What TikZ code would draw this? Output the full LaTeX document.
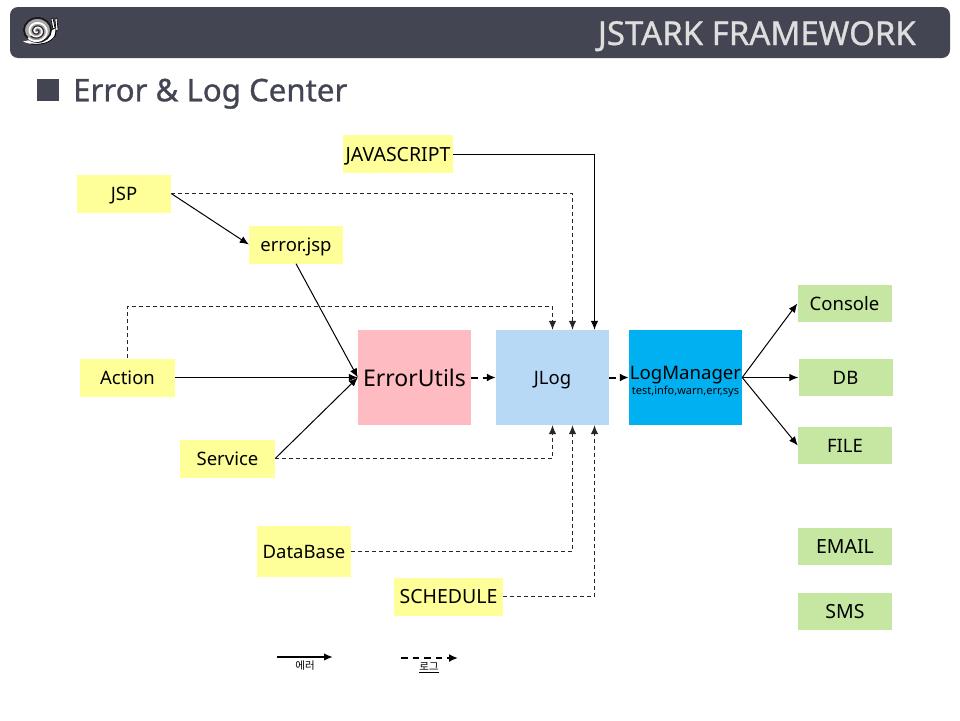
\documentclass[tikz,border=0pt]{standalone}
\usepackage{fontspec}
\setmainfont{Noto Sans}
\newfontfamily\krfont{Noto Sans CJK KR}
\newfontfamily\semifont[FakeBold=0.9]{Noto Sans}
\usetikzlibrary{arrows.meta}
\definecolor{JstarkSlate}{RGB}{67,69,82}
\definecolor{JstarkTitle}{RGB}{222,222,222}
\definecolor{JstarkNote}{RGB}{255,255,153}
\definecolor{JstarkOut}{RGB}{197,231,161}
\definecolor{JstarkPink}{RGB}{255,187,194}
\definecolor{JstarkSky}{RGB}{184,217,246}
\definecolor{JstarkCyan}{RGB}{0,176,240}
\tikzset{
  boxtext/.style={text height=14.5pt,text depth=0.5pt,font=\fontsize{18.5}{20}\selectfont},
  capstext/.style={font=\fontsize{19.5}{20}\selectfont},
  notebox/.style={fill=JstarkNote,inner sep=0pt,minimum width=94pt,minimum height=38pt,boxtext},
  outbox/.style={fill=JstarkOut,inner sep=0pt,minimum width=94pt,minimum height=37pt,boxtext},
  corebox/.style={inner sep=0pt,minimum width=113pt,minimum height=95pt},
  errline/.style={-{Latex[length=9pt,width=7.5pt]},line width=1pt},
  logline/.style={-{Latex[length=9pt,width=7.5pt]},line width=1pt,dash pattern=on 4pt off 3pt,color=black!85},
  thickdash/.style={-{Latex[length=9pt,width=8pt]},line width=2pt,dash pattern=on 6.5pt off 5pt},
  legendtext/.style={inner sep=0pt,font=\krfont\fontsize{10.5}{12}\selectfont}
}
\begin{document}
\begin{tikzpicture}[x=1pt,y=-1pt]
  \useasboundingbox (0,0) rectangle (960,720);
  % header
  \node[fill=JstarkSlate,rounded corners=8pt,inner sep=0pt,minimum width=940pt,minimum height=51pt] (header) at (480,32.5) {};
  \node[text=JstarkTitle,anchor=east,inner sep=0pt,text height=24pt,text depth=0pt,font=\semifont\fontsize{33}{36}\selectfont] (headertitle) at (916,33) {JSTARK FRAMEWORK};
  % snail
  \fill[white] (23,41.5) .. controls (30,45) and (46,46) .. (54,38) -- (56,28) -- (40,38) -- cycle;
  \draw[black,line width=0.8pt] (31,44) .. controls (42,45) and (50,43) .. (55,36) -- (57,27);
  \fill[white,draw=black,line width=0.6pt] (51,19) -- (53,18) -- (55,28) -- (53,29) -- cycle;
  \fill[white,draw=black,line width=0.6pt] (55,19) -- (57,18) -- (58,30) -- (56,31) -- cycle;
  \filldraw[draw=black!90,fill=black!35,line width=1.8pt] (37.5,30) ellipse (13.5 and 12);
  \draw[white,line width=1.8pt] plot[domain=0:800,samples=70,smooth] ({37+(1.5+\x*0.0125)*cos(\x+60)},{31+(1.5+\x*0.0115)*sin(\x+60)});
  \draw[black!85,line width=1.2pt] plot[domain=0:620,samples=60,smooth] ({37+(0.5+\x*0.0125)*cos(\x+240)},{31+(0.5+\x*0.0115)*sin(\x+240)});
  % title
  \node[fill=JstarkSlate,inner sep=0pt,minimum size=22pt] (titlemark) at (48,90) {};
  \node[text=JstarkSlate,anchor=west,inner sep=0pt,text height=22.6pt,text depth=0pt,font=\semifont\fontsize{31.2}{36}\selectfont] (pagetitle) at (73,90) {Error \& Log Center};
  % sources
  \node[notebox,minimum width=110pt,capstext] (javascript) at (398,154) {JAVASCRIPT};
  \node[notebox] (jsp) at (124,193.5) {JSP};
  \node[notebox] (errorjsp) at (296,244.5) {error.jsp};
  \node[notebox,minimum width=95pt] (action) at (127.5,377.5) {Action};
  \node[notebox,minimum width=95pt] (service) at (227.5,458.5) {Service};
  \node[notebox,minimum height=51pt] (database) at (304,551.5) {DataBase};
  \node[notebox,minimum width=109pt,capstext] (schedule) at (448.5,596.5) {SCHEDULE};
  % core
  \node[corebox,fill=JstarkPink,font=\fontsize{23}{28}\selectfont] (errorutils) at (414.5,377.5) {ErrorUtils};
  \node[corebox,fill=JstarkSky,boxtext] (jlog) at (552.5,377.5) {JLog};
  \node[corebox,fill=JstarkCyan,align=center] (logmanager) at (685.5,377.5) {%
    {\fontsize{18.6}{21}\selectfont\rule{0pt}{22pt}LogManager}\\[1pt]
    {\fontsize{11}{12}\selectfont test,info,warn,err,sys}
  };
  % targets
  \node[outbox] (console) at (844.5,303.5) {Console};
  \node[outbox] (db) at (845.5,377.5) {DB};
  \node[outbox] (file) at (845,445.5) {FILE};
  \node[outbox,capstext] (email) at (845,546.5) {EMAIL};
  \node[outbox,capstext] (sms) at (845,611.5) {SMS};
  % errors
  \draw[errline] (javascript.east) -| ([xshift=42pt]jlog.north);
  \draw[errline] (jsp.east) -- (errorjsp.west);
  \draw[errline] (errorjsp.south) -- (errorutils.west);
  \draw[errline] (action.east) -- (errorutils.west);
  \draw[errline] (service.east) -- (errorutils.west);
  \draw[errline] (logmanager.east) -- (console.west);
  \draw[errline] (logmanager.east) -- (db.west);
  \draw[errline] (logmanager.east) -- (file.west);
  % logs
  \draw[logline] (jsp.east) -| ([xshift=20pt]jlog.north);
  \draw[logline] (action.north) |- (552.5,306.5) -- (jlog.north);
  \draw[logline] (service.east) -| (jlog.south);
  \draw[logline] (database.east) -| ([xshift=20pt]jlog.south);
  \draw[logline] (schedule.east) -| ([xshift=42pt]jlog.south);
  \draw[thickdash] (errorutils.east) -- (jlog.west);
  \draw[thickdash] (jlog.east) -- (logmanager.west);
  % legend
  \coordinate (errstart) at (277,657);
  \coordinate (errend) at (333,657);
  \coordinate (logstart) at (401,658);
  \coordinate (logend) at (458,658);
  \draw[errline,line width=1.8pt] (errstart) -- (errend);
  \draw[thickdash] (logstart) -- (logend);
  \node[legendtext] (errlabel) at (305,666) {에러};
  \node[legendtext] (loglabel) at (429,667.5) {\underline{로그}};
\end{tikzpicture}
\end{document}
